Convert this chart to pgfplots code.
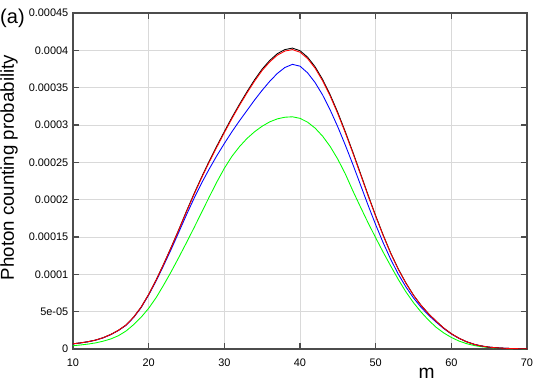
\documentclass[border=0pt]{standalone}
\usepackage{fontspec}
\setmainfont{Liberation Sans}
\usepackage{pgfplots}
\usepackage{pgfplotstable}
\pgfplotsset{compat=1.18}

% photon counting probability vs m, four curves
\pgfplotstableread{
m   blk       red       blu       grn
10  0.070e-4  0.070e-4  0.069e-4  0.044e-4
11  0.082e-4  0.082e-4  0.081e-4  0.054e-4
12  0.098e-4  0.098e-4  0.097e-4  0.066e-4
13  0.120e-4  0.120e-4  0.119e-4  0.082e-4
14  0.152e-4  0.152e-4  0.150e-4  0.105e-4
15  0.195e-4  0.195e-4  0.193e-4  0.135e-4
16  0.250e-4  0.250e-4  0.248e-4  0.178e-4
17  0.320e-4  0.320e-4  0.317e-4  0.240e-4
18  0.425e-4  0.425e-4  0.421e-4  0.325e-4
19  0.560e-4  0.560e-4  0.554e-4  0.425e-4
20  0.731e-4  0.730e-4  0.723e-4  0.545e-4
21  0.927e-4  0.925e-4  0.914e-4  0.690e-4
22  1.142e-4  1.140e-4  1.123e-4  0.860e-4
23  1.368e-4  1.365e-4  1.340e-4  1.040e-4
24  1.603e-4  1.600e-4  1.568e-4  1.230e-4
25  1.847e-4  1.838e-4  1.798e-4  1.425e-4
26  2.080e-4  2.070e-4  2.018e-4  1.625e-4
27  2.303e-4  2.292e-4  2.223e-4  1.830e-4
28  2.516e-4  2.503e-4  2.410e-4  2.035e-4
29  2.717e-4  2.703e-4  2.587e-4  2.235e-4
30  2.911e-4  2.897e-4  2.752e-4  2.420e-4
31  3.100e-4  3.085e-4  2.909e-4  2.580e-4
32  3.278e-4  3.262e-4  3.056e-4  2.710e-4
33  3.447e-4  3.430e-4  3.195e-4  2.820e-4
34  3.606e-4  3.588e-4  3.335e-4  2.910e-4
35  3.749e-4  3.730e-4  3.465e-4  2.984e-4
36  3.864e-4  3.845e-4  3.585e-4  3.042e-4
37  3.955e-4  3.935e-4  3.690e-4  3.082e-4
38  4.010e-4  3.990e-4  3.770e-4  3.104e-4
39  4.030e-4  4.010e-4  3.812e-4  3.110e-4
40  3.995e-4  3.975e-4  3.788e-4  3.089e-4
41  3.909e-4  3.890e-4  3.699e-4  3.038e-4
42  3.779e-4  3.760e-4  3.568e-4  2.958e-4
43  3.608e-4  3.590e-4  3.400e-4  2.849e-4
44  3.402e-4  3.385e-4  3.199e-4  2.710e-4
45  3.166e-4  3.150e-4  2.974e-4  2.541e-4
46  2.907e-4  2.893e-4  2.728e-4  2.343e-4
47  2.633e-4  2.620e-4  2.468e-4  2.115e-4
48  2.349e-4  2.337e-4  2.197e-4  1.900e-4
49  2.062e-4  2.052e-4  1.925e-4  1.690e-4
50  1.786e-4  1.777e-4  1.665e-4  1.490e-4
51  1.525e-4  1.517e-4  1.421e-4  1.295e-4
52  1.283e-4  1.277e-4  1.198e-4  1.110e-4
53  1.070e-4  1.065e-4  1.001e-4  0.930e-4
54  0.884e-4  0.880e-4  0.831e-4  0.765e-4
55  0.721e-4  0.720e-4  0.684e-4  0.620e-4
56  0.586e-4  0.585e-4  0.559e-4  0.495e-4
57  0.471e-4  0.470e-4  0.452e-4  0.385e-4
58  0.372e-4  0.372e-4  0.360e-4  0.290e-4
59  0.280e-4  0.280e-4  0.273e-4  0.215e-4
60  0.205e-4  0.205e-4  0.201e-4  0.155e-4
61  0.145e-4  0.145e-4  0.143e-4  0.107e-4
62  0.098e-4  0.098e-4  0.097e-4  0.072e-4
63  0.063e-4  0.063e-4  0.063e-4  0.047e-4
64  0.040e-4  0.040e-4  0.040e-4  0.030e-4
65  0.025e-4  0.025e-4  0.025e-4  0.019e-4
66  0.016e-4  0.016e-4  0.016e-4  0.012e-4
67  0.010e-4  0.010e-4  0.010e-4  0.0075e-4
68  0.0062e-4 0.0062e-4 0.0062e-4 0.0046e-4
69  0.0038e-4 0.0038e-4 0.0038e-4 0.0028e-4
70  0.0023e-4 0.0023e-4 0.0023e-4 0.0017e-4
}\probtable

\begin{document}
\begin{tikzpicture}
\begin{axis}[
    name=ax,
    scale only axis,
    width=340.5pt, height=252pt,
    xmin=10, xmax=70,
    ymin=0, ymax=0.00045,
    xtick={10,20,30,40,50,60,70},
    xticklabels={10,20,30,40,50,60,70},
    ytick={0,0.00005,0.0001,0.00015,0.0002,0.00025,0.0003,0.00035,0.0004,0.00045},
    yticklabels={0,5e-05,0.0001,0.00015,0.0002,0.00025,0.0003,0.00035,0.0004,0.00045},
    scaled y ticks=false,
    xtick pos=both, ytick pos=both,
    tick align=inside,
    major tick length=4.5pt,
    grid=major,
    grid style={gray!30, line width=0.5pt},
    axis line style={black!70, line width=1pt},
    tick style={black!70, line width=0.8pt},
    tick label style={font=\fontsize{8.2}{9}\selectfont},
    xticklabel style={yshift=-3.5pt},
    xlabel={m},
    ylabel={Photon counting probability},
    xlabel style={at={(axis description cs:0.779,-0.071)}, anchor=center,
                  font=\fontsize{14.4}{16}\selectfont},
    ylabel style={at={(axis description cs:-0.141,0.54)}, anchor=center,
                  font=\fontsize{14}{16}\selectfont},
    every axis plot/.append style={line width=0.65pt},
]
\addplot[green] table[x=m, y=grn] {\probtable};
\addplot[blue] table[x=m, y=blu] {\probtable};
\addplot[black] table[x=m, y=blk] {\probtable};
\addplot[red] table[x=m, y=red] {\probtable};
\end{axis}
\node[font=\fontsize{15}{17}\selectfont] at ([xshift=-45.4pt,yshift=-3.75pt]ax.north west) {(a)};
\pgfresetboundingbox
\path ([shift={(-54.75pt,-24.75pt)}]ax.south west) rectangle ([shift={(13.5pt,9.75pt)}]ax.north east);
\end{tikzpicture}
\end{document}
